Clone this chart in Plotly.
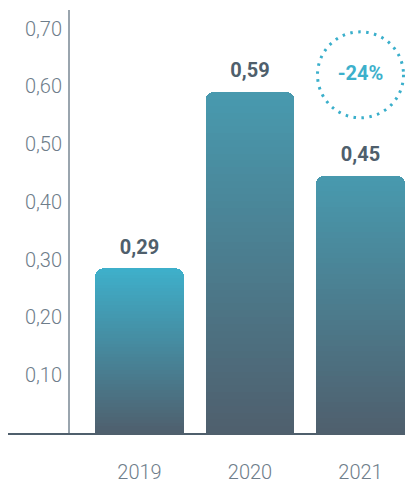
import plotly.graph_objects as go

# ---- data ----
years = ["2019", "2020", "2021"]
values = [0.285, 0.59, 0.445]
value_labels = ["0,29", "0,59", "0,45"]
y_tickvals = [0.1, 0.2, 0.3, 0.4, 0.5, 0.6, 0.7]
y_ticktext = ["0,10", "0,20", "0,30", "0,40", "0,50", "0,60", "0,70"]
change_label = "-24%"
change_year = "2021"
change_y = 0.62

# ---- style ----
top_colors = [(62, 176, 203), (72, 154, 175), (72, 154, 175)]
bottom_color = (79, 95, 109)
N_SEG = 50

W, H = 405, 484
m_l, m_r, m_t, m_b = 8, 0, 10, 42
plot_w = W - m_l - m_r
yaxis_px = 68
px_per_unit = 590.0

fig = go.Figure()

def mix(c1, c2, t):
    return "rgb(%d,%d,%d)" % tuple(round(a + (b - a) * t) for a, b in zip(c1, c2))

# gradient bars: each bar split into stacked slices, bottom -> top
for k in range(N_SEG):
    t = (k + 0.5) / N_SEG  # 0 bottom, 1 top
    colors = [mix(bottom_color, tc, t) for tc in top_colors]
    fig.add_trace(go.Bar(
        x=years,
        y=[v / N_SEG for v in values],
        marker=dict(color=colors, line=dict(width=0)),
        hoverinfo="skip",
        showlegend=False,
    ))

# value labels above bars (transparent marker pushes text up)
fig.add_trace(go.Scatter(
    x=years, y=values, text=["<b>%s</b>" % s for s in value_labels],
    mode="markers+text", textposition="top center",
    marker=dict(size=14, opacity=0),
    textfont=dict(family="Roboto", size=20, color="#4F5F6C"),
    hoverinfo="skip", showlegend=False, cliponaxis=False,
))

# change label inside the dotted circle
fig.add_trace(go.Scatter(
    x=[change_year], y=[change_y], text=["<b>%s</b>" % change_label],
    mode="text", textposition="middle center",
    textfont=dict(family="Roboto", size=20, color="#3DB0CB"),
    hoverinfo="skip", showlegend=False, cliponaxis=False,
))

fig.add_shape(
    type="circle", xref="x", yref="y",
    xsizemode="pixel", ysizemode="pixel",
    xanchor=2, yanchor=change_y,
    x0=-43, x1=43, y0=-43, y1=43,
    line=dict(color="#3AAFCB", width=3, dash="2.5px,5.5px"),
    fillcolor="rgba(0,0,0,0)",
)

# x range so that bars sit at the right pixel positions
unit = 110.5
c0 = 139.5
left_idx = -(c0 - m_l) / unit
right_idx = 2 + (W - m_r - (c0 + 2 * unit)) / unit

fig.update_layout(
    width=W, height=H,
    margin=dict(l=m_l, r=m_r, t=m_t, b=m_b),
    paper_bgcolor="white", plot_bgcolor="white",
    barmode="stack", bargap=0.195,
    barcornerradius=8,
    showlegend=False,
    separators=",.",
    hovermode=False,
    font=dict(family="Roboto", color="#6E7D8A"),
    xaxis=dict(
        type="category",
        range=[left_idx, right_idx],
        showgrid=False, zeroline=False,
        showline=True, linecolor="#4F5F6C", linewidth=1.5,
        ticks="", ticklabelstandoff=20,
        tickfont=dict(family="Roboto", size=20, color="#6E7D8A", weight=300),
    ),
    yaxis=dict(
        range=[0, (H - m_t - m_b) / px_per_unit],
        anchor="free", position=(yaxis_px - m_l) / plot_w,
        showgrid=False, zeroline=False,
        showline=True, linecolor="#9AA5AE", linewidth=1.5,
        tickvals=y_tickvals, ticktext=y_ticktext,
        ticks="", ticklabelstandoff=2,
        tickfont=dict(family="Roboto", size=20, color="#6E7D8A", weight=300),
    ),
)

fig.write_html(
    "out.html",
    config={"displayModeBar": False, "staticPlot": True},
    post_script="document.body.style.margin='0px';document.body.style.overflow='hidden';",
)
